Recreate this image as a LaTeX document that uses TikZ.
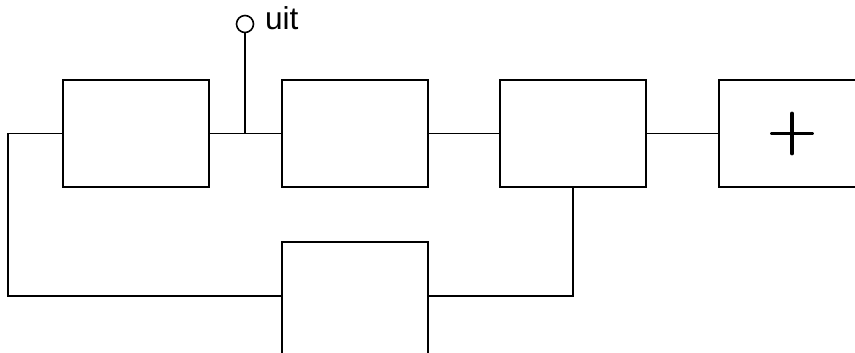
\documentclass[tikz,border=0pt]{standalone}
\usepackage{fontspec}
\setmainfont{Liberation Sans}
\usetikzlibrary{positioning}
\begin{document}
\begin{tikzpicture}[line width=0.9pt,
    blk/.style={draw, minimum width=2.92cm, minimum height=2.14cm, inner sep=0pt},
    wire/.style={draw, line width=0.9pt},
    term/.style={draw, circle, minimum size=0.34cm, inner sep=0pt}]
  \useasboundingbox (0,0) rectangle (17.1,-7.04);
  \clip (0,0) rectangle (17.1,-7.04);
  \node[blk] (b1) at (2.72,-2.67)  {};
  \node[blk] (b2) at (7.10,-2.67)  {};
  \node[blk] (b3) at (11.46,-2.67) {};
  \node[blk] (b4) at (15.84,-2.67) {};
  \node[blk, minimum height=2.3cm] (b5) at (7.10,-5.99) {};
  % plus sign in the last block
  \draw[line width=2.2pt, line cap=round] ([xshift=-0.4cm]b4.center) -- ([xshift=0.4cm]b4.center)
    ([yshift=-0.4cm]b4.center) -- ([yshift=0.4cm]b4.center);

  \node[term] (out) at (4.90,-0.48) {};
  \node[right=0.2cm of out, font=\fontsize{18}{21}\selectfont, inner sep=0pt, yshift=0.12cm] (uit) {uit};
  \coordinate (tap) at (out |- b1.east);
  \coordinate (fbl) at (0.16,-5.92);

  \draw[wire] (b1.east) -- (b2.west);
  \draw[wire] (out.south) -- (tap);
  \draw[wire] (b2.east) -- (b3.west);
  \draw[wire] (b3.east) -- (b4.west);
  \draw[wire] (b1.west) -| (fbl) -- (fbl -| b5.west);
  \draw[wire] (b5.east |- fbl) -| (b3.south);
\end{tikzpicture}
\end{document}
